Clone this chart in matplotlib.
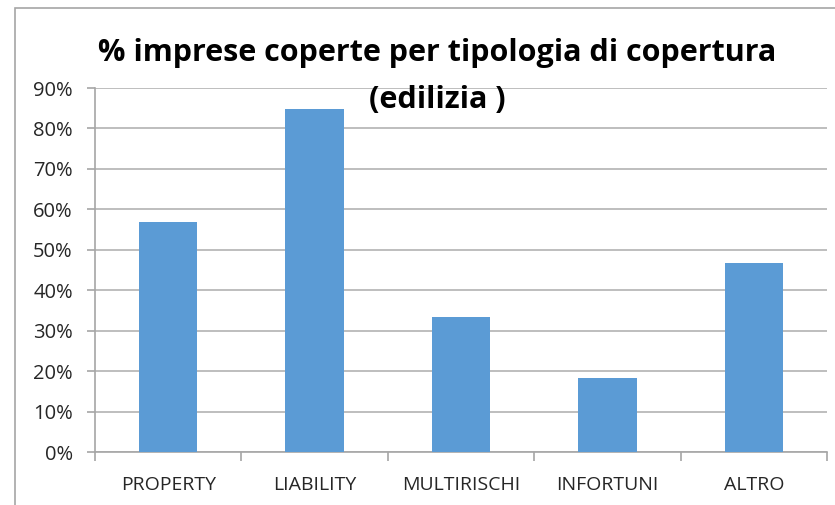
import matplotlib
matplotlib.use('Agg')
import matplotlib.pyplot as plt
from matplotlib.patches import Rectangle
from matplotlib.ticker import MultipleLocator, FuncFormatter

# Coverage share per type (construction firms)
categories = ['PROPERTY', 'LIABILITY', 'MULTIRISCHI', 'INFORTUNI', 'ALTRO']
values = [0.568, 0.848, 0.334, 0.182, 0.467]
title_lines = ['% imprese coperte per tipologia di copertura', '(edilizia )']

plt.rcParams['font.family'] = ['Open Sans', 'DejaVu Sans']

W, H = 835, 505
fig = plt.figure(figsize=(W / 100, H / 100), dpi=100)
ax = fig.add_axes([95 / W, 1 - 452 / H, (827 - 95) / W, (452 - 88) / H])

x = list(range(len(categories)))
ax.bar(x, values, width=0.4, color='#5b9bd5', zorder=3)

ax.set_xlim(-0.5, len(categories) - 0.5)
ax.set_ylim(0, 0.9)
ax.yaxis.set_major_locator(MultipleLocator(0.1))
ax.yaxis.set_major_formatter(FuncFormatter(lambda v, _: f"{v * 100:.0f}%"))
ax.grid(axis='y', color='#b3b3b3', linewidth=1.2, zorder=0)

ax.set_xticks(x)
ax.set_xticklabels(categories)
ax.set_xticks([i - 0.5 for i in range(len(categories) + 1)], minor=True)
ax.tick_params(axis='x', which='major', length=0, pad=17, labelsize=14, colors='#262626')
ax.tick_params(axis='x', which='minor', length=6.5, color='#a6a6a6', width=1.2)
ax.tick_params(axis='y', length=6, color='#a6a6a6', width=1.2, labelsize=14.5, colors='#262626', pad=10)

for s in ['top', 'right']:
    ax.spines[s].set_visible(False)
for s in ['left', 'bottom']:
    ax.spines[s].set_color('#a6a6a6')
    ax.spines[s].set_linewidth(1.2)

# two-line title, second line overlapping the plot area as in the original
fig.text(437 / W, 1 - 61 / H, title_lines[0], ha='center', va='baseline', fontsize=22,
         fontweight='bold', color='black')
fig.text(437 / W, 1 - 108 / H, title_lines[1], ha='center', va='baseline', fontsize=22,
         fontweight='bold', color='black', zorder=5)

# outer chart frame
fig.patches.append(Rectangle((15 / W, -0.01), 1.0, 1 - 8 / H + 0.01, transform=fig.transFigure,
                             fill=False, edgecolor='#a6a6a6', linewidth=1.2))

fig.savefig('out.png', dpi=100)
